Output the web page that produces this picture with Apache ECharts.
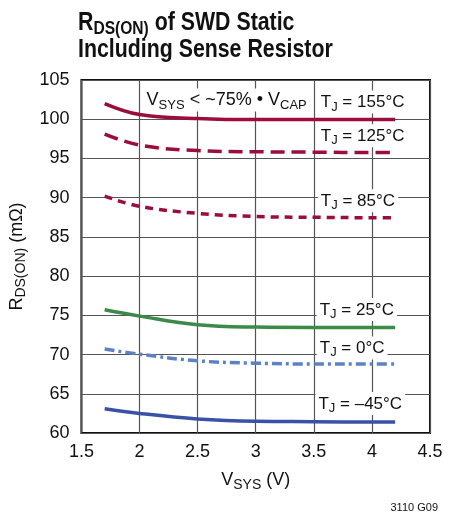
<!DOCTYPE html>
<html><head><meta charset="utf-8">
<script src="https://cdn.jsdelivr.net/npm/echarts@6/dist/echarts.min.js"></script>
<style>html,body{margin:0;padding:0;background:#fff}#c{width:460px;height:517px}</style>
</head><body><div id="c"></div>
<script>
const vsys = [1.7, 2.0, 2.5, 3.0, 3.5, 4.0, 4.2];
const t155 = [102.0, 100.6, 100.1, 99.95, 99.95, 99.95, 99.95];
const t125 = [98.1, 96.7, 96.0, 95.85, 95.8, 95.75, 95.75];
const t85  = [90.2, 88.9, 88.0, 87.6, 87.5, 87.45, 87.45];
const t25  = [75.7, 74.9, 73.8, 73.5, 73.45, 73.45, 73.45];
const t0   = [70.7, 70.05, 69.2, 68.9, 68.8, 68.8, 68.8];
const tm45 = [63.1, 62.5, 61.8, 61.5, 61.45, 61.4, 61.4];
const xTicks = ['1.5','2','2.5','3','3.5','4','4.5'];
const yTicks = ['60','65','70','75','80','85','90','95','100','105'];
const labelText = ['T{s|J} = 155°C','T{s|J} = 125°C','T{s|J} = 85°C','T{s|J} = 25°C','T{s|J} = 0°C','T{s|J} = –45°C','V{s|SYS} < ~75% • V{s|CAP}'];
const labelX = [3.92, 3.92, 3.88, 3.87, 3.83, 3.90, 2.75];
const labelY = [102.2, 97.9, 89.6, 75.75, 70.85, 63.75, 102.45];
const FONT = "'Liberation Sans',Arial,sans-serif";
const subRich = { s: {fontFamily: FONT, fontSize: 13, color:'#111', padding:[9,0,0,0]} };
function pairs(ys){ return vsys.map((x,i)=>[x, ys[i]]); }
const series = [
  {data:pairs(t155), color:'#9b0d3a', type:'solid'},
  {data:pairs(t125), color:'#9b0d3a', type:[14,7]},
  {data:pairs(t85),  color:'#9b0d3a', type:[8,6]},
  {data:pairs(t25),  color:'#3b8a47', type:'solid'},
  {data:pairs(t0),   color:'#5b82c6', type:[10,4,3,4]},
  {data:pairs(tm45), color:'#3a52a6', type:'solid'}
].map((s,i)=>({type:'line', data:s.data, smooth:0.4, showSymbol:false, symbol:'none', z:3,
  lineStyle:{color:s.color, width:3.5, type:s.type}}));
labelText.forEach((t,i)=>{
  series.push({type:'scatter', z:5, silent:true, symbolSize:1, itemStyle:{color:'#fff', opacity:1},
    data:[[labelX[i], labelY[i]]],
    label:{show:true, position:'inside', formatter:t, backgroundColor:'#fff', padding:[1,3,0,3], opacity:1,
      fontFamily:FONT, fontSize: i===6 ? 18 : 17, color:'#111', rich:subRich}, labelLayout:{hideOverlap:false}});
});
const chart = echarts.init(document.getElementById('c'), null, {renderer:'canvas'});
chart.setOption({
  animation:false,
  grid:{left:78, right:30, top:80, bottom:84, show:true, borderColor:'#111', borderWidth:2},
  xAxis:{type:'value', min:1.5, max:4.5, interval:0.5,
    name:'V{s|SYS} (V)', nameLocation:'middle', nameGap:36,
    nameTextStyle:{fontFamily:FONT, fontSize:18, color:'#111', rich:{s:{fontFamily:FONT, fontSize:14, color:'#111', padding:[9,0,0,0]}}},
    axisLine:{show:false}, axisTick:{show:false},
    splitLine:{show:true, lineStyle:{color:'#555', width:1.2}},
    axisLabel:{fontFamily:FONT, fontSize:18, color:'#111', margin:10, formatter:(v)=>xTicks[Math.round((v-1.5)/0.5)]}},
  yAxis:{type:'value', min:60, max:105, interval:5,
    name:'R{s|DS(ON)} (mΩ)', nameLocation:'middle', nameGap:44, nameRotate:90,
    nameTextStyle:{fontFamily:FONT, fontSize:18, color:'#111', rich:{s:{fontFamily:FONT, fontSize:14, color:'#111', padding:[9,0,0,0]}}},
    axisLine:{show:false}, axisTick:{show:false},
    splitLine:{show:true, lineStyle:{color:'#555', width:1.2}},
    axisLabel:{fontFamily:FONT, fontSize:18, color:'#111', margin:12, formatter:(v)=>yTicks[Math.round((v-60)/5)]}},
  graphic:[
    {type:'text', left:78, top:10, scaleX:0.82, originX:0, style:{
      text:'{a|R}{s|DS(ON)}{a| of SWD Static}', fill:'#111',
      rich:{a:{fontFamily:FONT, fontSize:26, fontWeight:'bold', color:'#111'},
            s:{fontFamily:FONT, fontSize:19, fontWeight:'bold', color:'#111', padding:[11,0,0,0]}}}},
    {type:'text', left:78, top:37, scaleX:0.82, originX:0, style:{
      text:'Including Sense Resistor', fill:'#111', font:"bold 26px "+FONT}},
    {type:'text', right:22, top:502, style:{text:'3110 G09', font:"11px "+FONT, fill:'#111'}}
  ],
  series: series
});
</script></body></html>
